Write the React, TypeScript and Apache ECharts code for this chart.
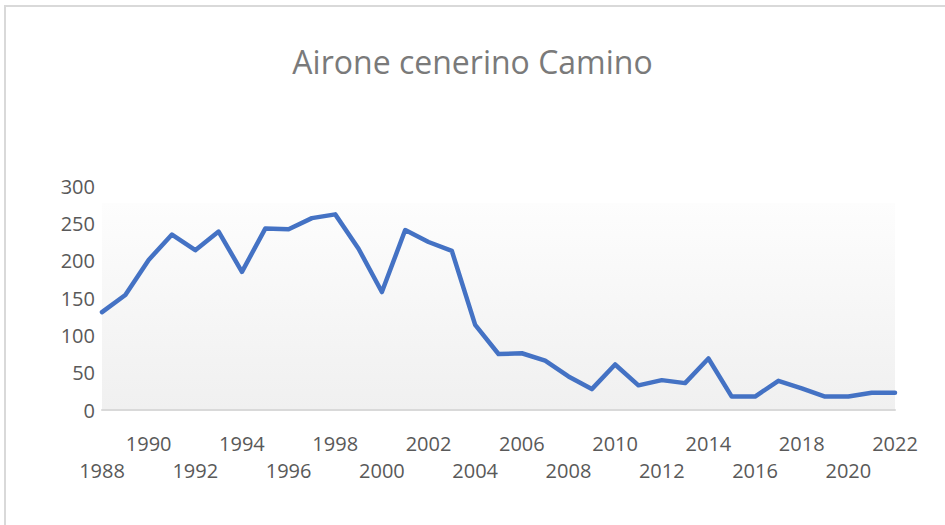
import React, { useEffect, useRef } from "react";
import * as echarts from "echarts";

const titleText = "Airone cenerino Camino";
const years = [
  "1988", "1989", "1990", "1991", "1992", "1993", "1994", "1995", "1996", "1997",
  "1998", "1999", "2000", "2001", "2002", "2003", "2004", "2005", "2006", "2007",
  "2008", "2009", "2010", "2011", "2012", "2013", "2014", "2015", "2016", "2017",
  "2018", "2019", "2020", "2021", "2022",
];
const counts = [
  131, 154, 201, 235, 214, 239, 185, 243, 242, 257,
  262, 216, 158, 241, 225, 213, 114, 75, 76, 66,
  45, 28, 61, 33, 40, 36, 69, 18, 18, 39,
  29, 18, 18, 23, 23,
];
const yMin = 0;
const yMax = 300;
const yStep = 50;

export default function App() {
  const ref = useRef<HTMLDivElement>(null);
  useEffect(() => {
    if (!ref.current) return;
    const chart = echarts.init(ref.current, null, { renderer: "svg" });
    const font = "'Open Sans', 'Noto Sans', sans-serif";
    chart.setOption({
      animation: false,
      backgroundColor: "#ffffff",
      title: {
        text: titleText,
        left: "center",
        top: 45,
        padding: 0,
        textStyle: {
          fontFamily: font,
          fontSize: 32,
          fontWeight: "normal",
          color: "#7a7a7a",
        },
      },
      graphic: [
        {
          type: "rect",
          shape: { x: 5, y: 6, width: 980, height: 560 },
          style: { fill: "none", stroke: "#d9d9d9", lineWidth: 2 },
          silent: true,
          z: 0,
        },
        {
          type: "rect",
          shape: { x: 102, y: 203, width: 793, height: 206 },
          style: {
            fill: new echarts.graphic.LinearGradient(0, 0, 0, 1, [
              { offset: 0, color: "#fdfdfd" },
              { offset: 1, color: "#f0f0f0" },
            ]),
          },
          silent: true,
          z: 0,
        },
      ],
      grid: { left: 102, right: 50, top: 186, bottom: 115, containLabel: false },
      xAxis: {
        type: "category",
        data: years,
        boundaryGap: false,
        axisLine: { show: true, lineStyle: { color: "#d9d9d9", width: 2 } },
        axisTick: { show: false },
        splitLine: { show: false },
        axisLabel: {
          interval: 1,
          margin: 20,
          fontFamily: font,
          fontSize: 20,
          lineHeight: 27,
          color: "#595959",
          formatter: (value: string, index: number) =>
            index % 4 === 0 ? "\n" + value : value,
        },
      },
      yAxis: {
        type: "value",
        min: yMin,
        max: yMax,
        interval: yStep,
        axisLine: { show: false },
        axisTick: { show: false },
        splitLine: { show: false },
        axisLabel: {
          margin: 7,
          fontFamily: font,
          fontSize: 20,
          color: "#595959",
        },
      },
      series: [
        {
          type: "line",
          data: counts,
          symbol: "none",
          z: 3,
          lineStyle: { color: "#4472c4", width: 4.5, join: "round", cap: "round" },
        },
      ],
    });
    return () => chart.dispose();
  }, []);
  return (
    <div
      ref={ref}
      style={{ position: "fixed", left: 0, top: 0, width: 945, height: 525 }}
    />
  );
}
